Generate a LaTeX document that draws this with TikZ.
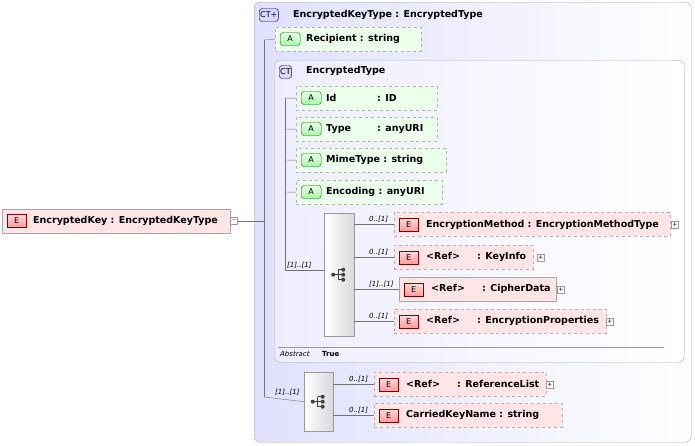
\documentclass[tikz,border=0pt]{standalone}
\usepackage{fontspec}
\setmainfont{DejaVu Sans}
\begin{document}
\begin{tikzpicture}[x=1pt,y=-1pt,font=\fontsize{9.5}{10}\selectfont\bfseries,
 ctbox/.style={draw=black!35,rounded corners=6pt,left color=blue!12,right color=white},
 elem/.style={draw=black!30,dashed,fill=red!10,minimum height=24pt,inner sep=0pt},
 elems/.style={draw=black!35,fill=red!10,minimum height=24pt,inner sep=0pt},
 attr/.style={draw=black!30,dashed,fill=green!8,minimum height=24pt,inner sep=0pt},
 eb/.style={draw=red!50!black,top color=red!15,bottom color=red!40,minimum width=19pt,minimum height=13pt,inner sep=0pt,font=\fontsize{8}{9}\selectfont\mdseries},
 ab/.style={draw=green!40!black,top color=green!10,bottom color=green!35,rounded corners=3pt,minimum width=20pt,minimum height=13pt,inner sep=0pt,font=\fontsize{8}{9}\selectfont\mdseries},
 ctb/.style={draw=blue!50!black,fill=blue!15,rounded corners=3pt,minimum height=13pt,inner sep=1pt,font=\fontsize{8}{9}\selectfont\mdseries},
 seq/.style={draw=black!40,left color=white,right color=black!15,inner sep=0pt},
 plus/.style={draw=black!40,fill=white,minimum size=7pt,inner sep=0pt,font=\fontsize{6}{6}\selectfont},
 lbl/.style={font=\fontsize{7}{8}\selectfont\mdseries\itshape,inner sep=0pt,anchor=south west},
 ln/.style={draw=black!55},
 t/.style={anchor=west,inner sep=0pt}]
\useasboundingbox (0,0) rectangle (695,445);
\newcommand\kk[1]{\makebox[51pt][l]{#1}}
% outer CT
\node[ctbox,minimum width=437pt,minimum height=440pt,anchor=north west] (outer) at (254,2) {};
\node[ctb,anchor=west] (ctb1) at (259,15) {CT\textcolor{blue!60!black}{+}};
\node[t] (ctt1) at (293,15) {EncryptedKeyType : EncryptedType};
% root element
\node[elems,minimum width=228pt,anchor=north west] (root) at (2,209) {};
\node[eb,anchor=west] (rootb) at (7,221) {E};
\node[t] (roott) at (33,221) {EncryptedKey : EncryptedKeyType};
\node[plus] (rootp) at (234,221) {--};
% Recipient
\node[attr,minimum width=146pt,anchor=north west] (rec) at (275,27) {};
\node[ab,anchor=west] (recb) at (280,39) {A};
\node[t] (rect) at (306,39) {Recipient : string};
% inner CT
\node[ctbox,left color=blue!7,minimum width=410pt,minimum height=302pt,anchor=north west] (inner) at (274,60) {};
\node[ctb,anchor=west] (ctb2) at (279,72) {CT};
\node[t] (ctt2) at (306,71) {EncryptedType};
% attributes
\node[attr,minimum width=141pt,anchor=north west] (id) at (296,86) {};
\node[ab,anchor=west] (idb) at (301,98) {A};
\node[t] (idt) at (326,98) {\kk{Id}: ID};
\node[attr,minimum width=141pt,anchor=north west] (ty) at (296,117) {};
\node[ab,anchor=west] (tyb) at (301,129) {A};
\node[t] (tyt) at (326,129) {\kk{Type}: anyURI};
\node[attr,minimum width=150pt,anchor=north west] (mt) at (296,148) {};
\node[ab,anchor=west] (mtb) at (301,160) {A};
\node[t] (mtt) at (326,160) {MimeType : string};
\node[attr,minimum width=146pt,anchor=north west] (en) at (296,180) {};
\node[ab,anchor=west] (enb) at (301,192) {A};
\node[t] (ent) at (326,192) {Encoding : anyURI};
% sequences
\node[seq,minimum width=30pt,minimum height=123pt,anchor=north west] (s1) at (324,213) {};
\node[seq,minimum width=29pt,minimum height=59pt,anchor=north west] (s2) at (304,372) {};
\foreach \c in {s1,s2}{
 \begin{scope}[shift={(\c.center)}]
 \fill[black!75] (-6,0) circle (2);
 \draw[black!75,line width=0.8pt] (-6,0) -- (-1,0) (-1,-5) -- (-1,5);
 \foreach \d in {-5,0,5}{
  \draw[black!75,line width=0.8pt] (-1,\d) -- (4,\d);
  \fill[black!75] (4,\d) circle (2);}
 \end{scope}
}
% children of s1
\node[elem,minimum width=276pt,anchor=north west] (em) at (394,212) {};
\node[eb,anchor=west] (emb) at (399,225) {E};
\node[t] (emt) at (426,225) {EncryptionMethod : EncryptionMethodType};
\node[plus] (emp) at (675,225) {+};
\node[elem,minimum width=139pt,anchor=north west] (ki) at (394,245) {};
\node[eb,anchor=west] (kib) at (399,258) {E};
\node[t] (kit) at (426,257) {\kk{<Ref>}: KeyInfo};
\node[plus] (kip) at (541,258) {+};
\node[elems,minimum width=157pt,anchor=north west] (cd) at (399,277) {};
\node[eb,anchor=west] (cdb) at (404,290) {E};
\node[t] (cdt) at (431,289) {\kk{<Ref>}: CipherData};
\node[plus] (cdp) at (561,290) {+};
\node[elem,minimum width=212pt,anchor=north west] (ep) at (394,309) {};
\node[eb,anchor=west] (epb) at (399,322) {E};
\node[t] (ept) at (426,321) {\kk{<Ref>}: EncryptionProperties};
\node[plus] (epp) at (610,322) {+};
% children of s2
\node[elem,minimum width=172pt,anchor=north west] (rl) at (374,372) {};
\node[eb,anchor=west] (rlb) at (379,385) {E};
\node[t] (rlt) at (406,384) {\kk{<Ref>}: ReferenceList};
\node[plus] (rlp) at (550,385) {+};
\node[elem,minimum width=188pt,anchor=north west] (ck) at (374,403) {};
\node[eb,anchor=west] (ckb) at (379,416) {E};
\node[t] (ckt) at (406,415) {CarriedKeyName : string};
% abstract
\draw[black!40] (278,347) -- (664,347);
\node[t,font=\fontsize{7}{8}\selectfont\itshape] (abs) at (280,354) {Abstract};
\node[t,font=\fontsize{7}{8}\selectfont\bfseries] (absv) at (322,354) {True};
% connectors
\coordinate (v1t) at (264,40);
\coordinate (v1b) at (264,397);
\coordinate (v1m) at (264,221);
\draw[ln] (v1t) -- (v1b);
\draw[ln] (rootp.east) -- (v1m);
\draw[ln] (v1t) -- (rec.west);
\draw[ln] (v1b) -- (s2.west);
\coordinate (v2t) at (285,98);
\coordinate (v2b) at (285,270);
\draw[ln] (v2t) -- (v2b);
\draw[ln] (v2t) -- (id.west);
\draw[ln] (285,129) -- (ty.west);
\draw[ln] (285,160) -- (mt.west);
\draw[ln] (285,192) -- (en.west);
\draw[ln] (v2b) -- (v2b-|s1.west);
\node[lbl] (l0) at (287,269) {[1]..[1]};
\node[lbl] (l00) at (275,396) {[1]..[1]};
\foreach \n in {em,ki,cd,ep}{\draw[ln] (s1.east|-\n.west) -- (\n.west);}
\foreach \n in {rl,ck}{\draw[ln] (s2.east|-\n.west) -- (\n.west);}
\node[lbl] (l1) at (369,223) {0..[1]};
\node[lbl] (l2) at (369,256) {0..[1]};
\node[lbl] (l3) at (369,288) {[1]..[1]};
\node[lbl] (l4) at (369,320) {0..[1]};
\node[lbl] (l5) at (349,383) {0..[1]};
\node[lbl] (l6) at (349,414) {0..[1]};
\end{tikzpicture}
\end{document}
